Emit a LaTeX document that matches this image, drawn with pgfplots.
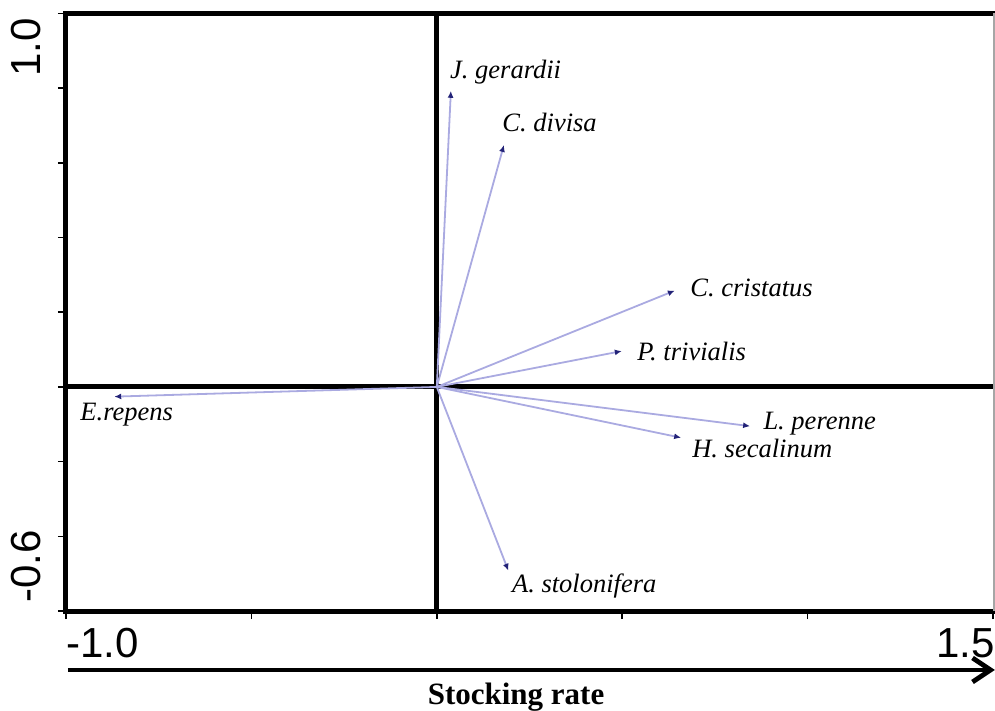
\documentclass[border=0pt]{standalone}
\usepackage{fontspec}
\setmainfont{Liberation Serif}
\newfontfamily\arialfont{Liberation Sans}
\usepackage{pgfplots}
\pgfplotsset{compat=1.18}
\usepackage{pgfplotstable}
\usetikzlibrary{arrows.meta}
\definecolor{shaft}{RGB}{170,170,225}
\definecolor{tipc}{RGB}{35,35,120}

\pgfplotstableread{
x y u v
0 0 0.038 0.793
0 0 0.181 0.648
0 0 0.642 0.258
0 0 0.499 0.096
0 0 0.845 -0.105
0 0 0.659 -0.136
0 0 -0.870 -0.026
0 0 0.193 -0.492
}\vectable

\pgfplotstableread[col sep=comma]{
x,y,label
0.035,0.843,J. gerardii
0.176,0.707,C. divisa
0.683,0.266,C. cristatus
0.540,0.095,P. trivialis
0.880,-0.099,L. perenne
0.688,-0.165,H. secalinum
-0.962,-0.075,E.repens
0.202,-0.533,A. stolonifera
}\labeltable

\begin{document}
\begin{tikzpicture}
\begin{axis}[name=ax, scale only axis, width=463.5pt, height=298.75pt,
  xmin=-1, xmax=1.5, ymin=-0.6, ymax=1.0,
  clip=false,
  axis line style={draw=none},
  tick pos=left,
  xtick={-1,1.5}, xticklabels={-1.0,\llap{1.5}},
  minor xtick={-0.5,0,0.5,1},
  ytick={-0.6,1.0}, yticklabels={{\hspace{4pt}-0.6},{\llap{1.0\hspace{3.25pt}}}},
  minor ytick={-0.4,-0.2,0,0.2,0.4,0.6,0.8},
  tick align=outside, major tick length=4pt, minor tick length=4pt,
  every tick/.style={black, line width=0.8pt},
  xticklabel style={font=\arialfont\fontsize{21pt}{21pt}\selectfont, anchor=north west, inner sep=0pt, yshift=-4.5pt},
  yticklabel style={font=\arialfont\fontsize{21pt}{21pt}\selectfont, xshift=-8.25pt, rotate=90, anchor=south west, inner sep=0pt},
  xlabel={Stocking rate},
  xlabel style={at={(axis description cs:0.4855,-0.157)}, anchor=base, font=\bfseries\fontsize{15.5pt}{15.5pt}\selectfont, inner sep=0pt},
]
\addplot[black, line width=2.5pt] coordinates {(-1,0) (1.5,0)};
\addplot[black, line width=2.5pt] coordinates {(0,-0.6) (0,1)};
\addplot[shaft, line width=0.9pt, quiver={u=\thisrow{u}, v=\thisrow{v}}, -{Latex[length=3.5pt,width=3pt,color=tipc]}] table {\vectable};
\addplot[draw=none, mark=none, nodes near coords, point meta=explicit symbolic,
  nodes near coords style={anchor=west, inner sep=0pt, text=black, font=\itshape\fontsize{13.25pt}{13.25pt}\selectfont}]
  table[meta=label] {\labeltable};
\draw[line width=2.5pt, line join=miter, line cap=rect] (rel axis cs:1,0) -- (rel axis cs:0,0) -- (rel axis cs:0,1) -- (rel axis cs:1,1);
\draw[gray!70, line width=0.8pt] ([xshift=0.6pt]rel axis cs:1,0) -- ([xshift=0.6pt]rel axis cs:1,1);
\draw[line width=2.4pt, -{Straight Barb[length=9pt,width=12pt]}] (axis description cs:0.002,-0.0987) -- (axis description cs:1.002,-0.0987);
\end{axis}
\pgfresetboundingbox
\path (ax.south west) ++(-33pt,-50pt) rectangle ++(497.5pt,355.5pt);
\end{tikzpicture}
\end{document}
